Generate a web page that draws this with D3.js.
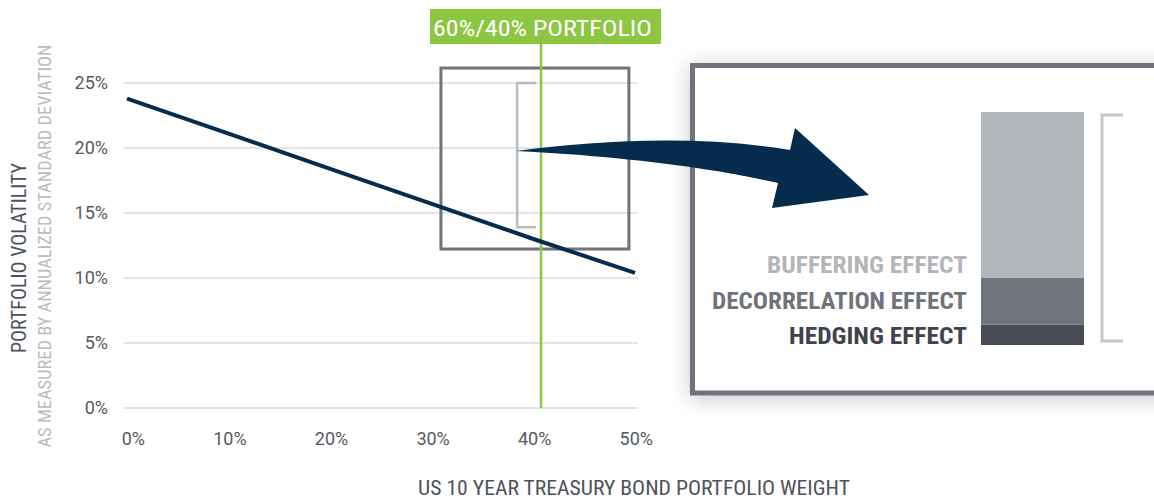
<!DOCTYPE html>
<html lang="en">
<head>
    <meta charset="UTF-8">
    <title>Portfolio volatility</title>
    <script src="https://d3js.org/d3.v7.js"></script>
    <style>
        body { margin: 0; background: #fff; }
        svg { display: block; }
        text { font-family: "Liberation Sans Narrow", "Roboto Condensed", Roboto, sans-serif; }
        text.tick { font-family: Roboto, "Liberation Sans", sans-serif; }
    </style>
</head>
<body>
<svg></svg>
<script>
    // bond weight vs portfolio volatility
    let bondWeights = [0, 0.1, 0.2, 0.3, 0.4, 0.5];
    let volatility = [0.238, 0.211, 0.184, 0.157, 0.130, 0.104];

    let xTicks = [0, 0.1, 0.2, 0.3, 0.4, 0.5];
    let yTicks = [0, 0.05, 0.10, 0.15, 0.20, 0.25];

    let markerWeight = 0.4075;
    let markerLabel = "60%/40% PORTFOLIO";

    // diversification effects, bottom to top, in volatility points
    let effectNames = ["HEDGING EFFECT", "DECORRELATION EFFECT", "BUFFERING EFFECT"];
    let effectValues = [1.0, 2.3, 8.1];
    let effectColors = ["#474b53", "#6f737b", "#b3b6b8"];
    let effectTextColors = ["#3f434b", "#6f737b", "#b3b6b8"];
    let effectTextWidths = [178, 255, 200];

    let width = 1154;
    let height = 499;

    let navy = "#052b4d";
    let green = "#8dc641";
    let boxGray = "#6f737b";

    let svg = d3.select("svg")
        .attr("width", width)
        .attr("height", height);

    let defs = svg.append("defs");
    let shadow = defs.append("filter")
        .attr("id", "shadow")
        .attr("x", "-20%").attr("y", "-20%")
        .attr("width", "140%").attr("height", "140%");
    shadow.append("feDropShadow")
        .attr("dx", 0).attr("dy", 3)
        .attr("stdDeviation", 10)
        .attr("flood-color", "#000")
        .attr("flood-opacity", 0.22);

    let x = d3.scaleLinear().domain([0, 0.5]).range([127, 635]);
    let y = d3.scaleLinear().domain([0, 0.25]).range([408, 83]);

    // gridlines
    svg.append("g").selectAll("line")
        .data(yTicks)
        .enter()
        .append("line")
        .attr("x1", 124).attr("x2", 638)
        .attr("y1", d => y(d)).attr("y2", d => y(d))
        .style("stroke", "#e3e4e5")
        .style("stroke-width", 2);

    // y tick labels
    svg.append("g").selectAll("text")
        .data(yTicks)
        .enter()
        .append("text")
        .attr("class", "tick")
        .attr("x", 108)
        .attr("y", d => y(d))
        .attr("dy", "0.36em")
        .style("text-anchor", "end")
        .style("font-size", "18px")
        .style("fill", "#555a61")
        .text(d3.format(".0%"));

    // x tick labels
    svg.append("g").selectAll("text")
        .data(xTicks)
        .enter()
        .append("text")
        .attr("class", "tick")
        .attr("x", d => x(d) + 18)
        .attr("y", 445)
        .style("text-anchor", "end")
        .style("font-size", "18px")
        .style("fill", "#555a61")
        .text(d3.format(".0%"));

    // axis titles
    svg.append("text")
        .attr("x", 634)
        .attr("y", 495)
        .attr("textLength", 432)
        .attr("lengthAdjust", "spacingAndGlyphs")
        .style("text-anchor", "middle")
        .style("font-size", "20.5px")
        .style("fill", "#4d5259")
        .text("US 10 YEAR TREASURY BOND PORTFOLIO WEIGHT");

    svg.append("text")
        .attr("transform", "translate(26,258) rotate(-90)")
        .attr("textLength", 190)
        .attr("lengthAdjust", "spacingAndGlyphs")
        .style("text-anchor", "middle")
        .style("font-size", "20px")
        .style("fill", "#4d5259")
        .text("PORTFOLIO VOLATILITY");

    svg.append("text")
        .attr("transform", "translate(51,246) rotate(-90)")
        .attr("textLength", 403)
        .attr("lengthAdjust", "spacingAndGlyphs")
        .style("text-anchor", "middle")
        .style("font-size", "18.5px")
        .style("fill", "#b9bcbf")
        .text("AS MEASURED BY ANNUALIZED STANDARD DEVIATION");

    // zoom box around the 60/40 point
    svg.append("rect")
        .attr("x", x(0.309))
        .attr("y", y(0.2615))
        .attr("width", x(0.494) - x(0.309))
        .attr("height", y(0.1223) - y(0.2615))
        .style("fill", "none")
        .style("stroke", boxGray)
        .style("stroke-width", 3);

    // small bracket
    let bracket = function (x0, x1, y0, y1) {
        return "M" + x1 + "," + y0 + "H" + x0 + "V" + y1 + "H" + x1;
    };
    svg.append("path")
        .attr("d", bracket(x(0.384), x(0.4025), y(0.25), y(0.139)))
        .style("fill", "none")
        .style("stroke", "#b9bbbd")
        .style("stroke-width", 2.5);

    // 60/40 marker
    svg.append("line")
        .attr("x1", x(markerWeight)).attr("x2", x(markerWeight))
        .attr("y1", 44).attr("y2", y(0))
        .style("stroke", green)
        .style("stroke-width", 2.5);

    svg.append("rect")
        .attr("x", 430).attr("y", 9)
        .attr("width", 231).attr("height", 35)
        .style("fill", green);

    svg.append("text")
        .attr("x", 542.5)
        .attr("y", 36)
        .attr("textLength", 219)
        .attr("lengthAdjust", "spacingAndGlyphs")
        .style("text-anchor", "middle")
        .style("font-size", "22.5px")
        .style("fill", "#fff")
        .text(markerLabel);

    // volatility line
    let line = d3.line()
        .x((d, i) => x(bondWeights[i]))
        .y(d => y(d));

    svg.append("path")
        .datum(volatility)
        .attr("d", line)
        .style("fill", "none")
        .style("stroke", navy)
        .style("stroke-width", 4);

    // big inset box
    svg.append("rect")
        .attr("x", 692.5).attr("y", 65.5)
        .attr("width", 600).attr("height", 327.5)
        .attr("filter", "url(#shadow)")
        .style("fill", "#fff")
        .style("stroke", boxGray)
        .style("stroke-width", 5);

    // stacked effect bar
    let yIn = d3.scaleLinear().domain([0, d3.sum(effectValues)]).range([345, 112]);
    let stack = d3.cumsum(effectValues);

    svg.append("g").selectAll("rect")
        .data(effectValues)
        .enter()
        .append("rect")
        .attr("x", 981)
        .attr("width", 103)
        .attr("y", (d, i) => yIn(stack[i]))
        .attr("height", (d, i) => yIn(stack[i] - d) - yIn(stack[i]))
        .style("fill", (d, i) => effectColors[i]);

    svg.append("g").selectAll("text")
        .data(effectNames)
        .enter()
        .append("text")
        .attr("x", 967)
        .attr("y", (d, i) => 344 - i * 35.5)
        .attr("textLength", (d, i) => effectTextWidths[i])
        .attr("lengthAdjust", "spacingAndGlyphs")
        .style("text-anchor", "end")
        .style("font-size", "24.5px")
        .style("font-weight", "bold")
        .style("fill", (d, i) => effectTextColors[i])
        .text(d => d);

    svg.append("path")
        .attr("d", bracket(1102, 1123, yIn(11.25), yIn(0.2)))
        .style("fill", "none")
        .style("stroke", "#c4c6c8")
        .style("stroke-width", 3);

    // curved arrow into the inset
    let arrow = d3.path();
    arrow.moveTo(516, 151);
    arrow.bezierCurveTo(600, 140, 700, 135, 790, 150);
    arrow.lineTo(795, 128);
    arrow.lineTo(869, 195);
    arrow.lineTo(772, 208);
    arrow.lineTo(778, 183);
    arrow.bezierCurveTo(700, 165, 600, 155, 516, 151);
    arrow.closePath();

    svg.append("path")
        .attr("d", arrow.toString())
        .style("fill", navy);
</script>
</body>
</html>
